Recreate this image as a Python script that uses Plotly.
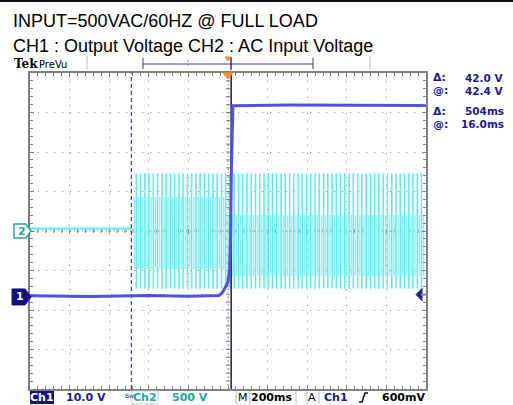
import plotly.graph_objects as go

W, H = 513, 405
L, R, T, B = 30, 426, 73, 389          # graticule edges in pixels
PW, PH = R - L, B - T

time_div_ms = 200
ch1_v_div = 10.0
ch2_v_div = 500.0
ch1_pos_div = -1.67          # ch1 ground marker position (divisions from centre)
ch2_pos_div = 0.0

ch1_t_ms = [-1000, -700, -400, -200, -45, -30, -15, 0, 8, 13, 17, 21, 25, 300, 1000]
ch1_v = [0.3, 0.1, 0.4, 0.2, 0.4, 1.0, 2.3, 3.8, 7.0, 15.0, 32.0, 46.0, 48.4, 48.6, 48.5]

ch2_pre_t_ms = [-1000, -484]
ch2_pre_v = [30, 30]

# apparent (aliased) full-swing bars of the 60 Hz input after it is applied
ch2_bar_t_ms = [-463, -442, -420, -399, -377, -356, -334, -313, -291, -270, -248, -227,
                -205, -184, -162, -141, -119, -98, -76, -55, -33, -12, 10, 31, 53, 74,
                96, 117, 139, 160, 182, 203, 225, 246, 268, 289, 311, 332, 354, 375, 397,
                418, 440, 461, 483, 504, 526, 547, 569, 590, 612, 633, 655, 676, 698, 719,
                741, 762, 784, 805, 827, 848, 870, 891, 913, 934, 956, 977]
ch2_bar_top_v = 730
ch2_bar_bot_v = -730
# partial swings between the full bars (before / after the output rises)
ch2_part_t_ms = [-473, -452, -431, -409, -388, -366, -345, -323, -302, -280, -259, -237,
                 -216, -194, -173, -151, -130, -108, -87, -65, -44, -22, 0, 21, 42, 64, 85,
                 107, 128, 150, 171, 193, 214, 236, 257, 279, 300, 322, 343, 365, 386, 408,
                 429, 451, 472, 494, 515, 537, 558, 580, 601, 623, 644, 666, 687, 709, 730,
                 752, 773, 795, 816, 838, 859, 881, 902, 924, 945, 967, 988]
ch2_part_top_v = [430] * 22 + [200] * 47
ch2_part_bot_v = [-480] * 22 + [-570] * 47

cursor_t_ms = [-488, 16]
trig_t_ms = 0
trig_level_v = 0.6

readouts = [("Δ:", "42.0 V"), ("@:", "42.4 V"), ("Δ:", "504ms"), ("@:", "16.0ms")]

# ---------------- helpers ----------------
def px(x):
    return (x - L) / PW

def py(y):
    return (B - y) / PH

def path(pts, close=True):
    return "M " + " L ".join(f"{px(a):.5f},{py(b):.5f}" for a, b in pts) + (" Z" if close else "")

ch1_range = [(-4 - ch1_pos_div) * ch1_v_div, (4 - ch1_pos_div) * ch1_v_div]
ch2_range = [(-4 - ch2_pos_div) * ch2_v_div, (4 - ch2_pos_div) * ch2_v_div]

CYAN = "#5eeef0"
CH1C = "#5050e6"
NAVY = "#1a1a9c"
TEAL = "#21a6a6"

fig = go.Figure()

# CH2 before the input is applied
fig.add_trace(go.Scatter(x=ch2_pre_t_ms, y=ch2_pre_v, mode="lines",
                         line=dict(color=CYAN, width=2.2), yaxis="y", hoverinfo="skip"))
# CH2 partial swings
xs, ys = [], []
for t, a, b in zip(ch2_part_t_ms, ch2_part_top_v, ch2_part_bot_v):
    xs += [t, t, None]
    ys += [a, b, None]
fig.add_trace(go.Scatter(x=xs, y=ys, mode="lines", line=dict(color="#92f0f2", width=1.4),
                         yaxis="y", hoverinfo="skip"))
# CH2 full swings
xs, ys = [], []
for t in ch2_bar_t_ms:
    xs += [t, t, None]
    ys += [ch2_bar_top_v, ch2_bar_bot_v, None]
fig.add_trace(go.Scatter(x=xs, y=ys, mode="lines", line=dict(color=CYAN, width=1.6),
                         yaxis="y", hoverinfo="skip"))

# cursors
fig.add_trace(go.Scatter(x=[cursor_t_ms[0]] * 2, y=ch2_range, mode="lines",
                         line=dict(color="#3a3ac8", width=1.2, dash="4px,3px"),
                         yaxis="y", hoverinfo="skip"))
fig.add_trace(go.Scatter(x=[cursor_t_ms[1]] * 2, y=ch2_range, mode="lines",
                         line=dict(color="#22228a", width=1.6), yaxis="y", hoverinfo="skip"))

# CH1
fig.add_trace(go.Scatter(x=ch1_t_ms, y=ch1_v, mode="lines",
                         line=dict(color=CH1C, width=3), yaxis="y2", hoverinfo="skip"))

shapes = []
# centre cross (dotted with small ticks)
shapes.append(dict(type="line", xref="paper", yref="paper", x0=0, x1=1, y0=0.5, y1=0.5,
                   line=dict(color="#8a8a8a", width=1, dash="1px,3px"), layer="below"))
shapes.append(dict(type="line", xref="paper", yref="paper", x0=0.5, x1=0.5, y0=0, y1=1,
                   line=dict(color="#8a8a8a", width=1, dash="1px,3px"), layer="below"))
cx, cy = (L + R) / 2, (T + B) / 2
for i in range(1, 50):
    x = L + i * PW / 50
    shapes.append(dict(type="line", xref="paper", yref="paper", x0=px(x), x1=px(x),
                       y0=py(cy - 2), y1=py(cy + 2), line=dict(color="#808080", width=1),
                       layer="below"))
for i in range(1, 40):
    y = T + i * PH / 40
    shapes.append(dict(type="line", xref="paper", yref="paper", x0=px(cx - 2), x1=px(cx + 2),
                       y0=py(y), y1=py(y), line=dict(color="#808080", width=1), layer="below"))

# left channel markers
g2 = B - (ch2_pos_div + 4) * PH / 8
g1 = B - (ch1_pos_div + 4) * PH / 8
shapes.append(dict(type="path", xref="paper", yref="paper",
                   path=path([(14, g2 - 7), (26, g2 - 7), (31, g2), (26, g2 + 7), (14, g2 + 7)]),
                   fillcolor="white", line=dict(color=TEAL, width=1.5)))
shapes.append(dict(type="path", xref="paper", yref="paper",
                   path=path([(12, g1 - 8), (25, g1 - 8), (31, g1), (25, g1 + 8), (12, g1 + 8)]),
                   fillcolor="#12127e", line=dict(color="#12127e", width=1)))
# trigger level marker (right)
tl = B - (trig_level_v / ch1_v_div + ch1_pos_div + 4) * PH / 8
shapes.append(dict(type="path", xref="paper", yref="paper",
                   path=path([(416, tl), (422, tl - 6), (422, tl + 6)]),
                   fillcolor="#1c1ca0", line=dict(color="#1c1ca0", width=1)))
shapes.append(dict(type="line", xref="paper", yref="paper", x0=px(421), x1=px(426),
                   y0=py(tl), y1=py(tl), line=dict(color="#7c7ce8", width=2)))
# trigger position marker (top)
tx = L + (trig_t_ms / time_div_ms + 5) * PW / 10
shapes.append(dict(type="path", xref="paper", yref="paper",
                   path=path([(tx - 5, T), (tx + 5, T), (tx, T + 6)]),
                   fillcolor="#ff8a1c", line=dict(color="#ff8a1c", width=1)))
# record view bar at the top
shapes.append(dict(type="line", xref="paper", yref="paper", x0=px(143), x1=px(313),
                   y0=py(64), y1=py(64), line=dict(color="#3b3ba6", width=1.2)))
for x in (143, 313):
    shapes.append(dict(type="line", xref="paper", yref="paper", x0=px(x), x1=px(x),
                       y0=py(58), y1=py(69), line=dict(color="#444", width=1)))
for x in (87, 370):
    shapes.append(dict(type="line", xref="paper", yref="paper", x0=px(x), x1=px(x),
                       y0=py(56), y1=py(70), line=dict(color="#bbbbbb", width=1)))
shapes.append(dict(type="line", xref="paper", yref="paper", x0=px(188), x1=px(188),
                   y0=py(60), y1=py(68), line=dict(color="#7a7ad8", width=1, dash="2px,2px")))
shapes.append(dict(type="line", xref="paper", yref="paper", x0=px(231), x1=px(231),
                   y0=py(57), y1=py(70), line=dict(color="#22228a", width=1.4)))
shapes.append(dict(type="path", xref="paper", yref="paper",
                   path=path([(225, 57), (231, 57), (228, 61)]),
                   fillcolor="#ff8a1c", line=dict(color="#ff8a1c", width=1)))
# top black rule
shapes.append(dict(type="line", xref="paper", yref="paper", x0=px(0), x1=px(513),
                   y0=py(1), y1=py(1), line=dict(color="#111", width=2)))
# status bar boxes
shapes.append(dict(type="rect", xref="paper", yref="paper", x0=px(30), x1=px(54),
                   y0=py(391), y1=py(404), fillcolor="#12127e", line=dict(width=0)))
shapes.append(dict(type="rect", xref="paper", yref="paper", x0=px(132), x1=px(158),
                   y0=py(391), y1=py(404), fillcolor="white", line=dict(color="#ccc", width=1)))
for x in (236, 250, 296, 307, 319):
    shapes.append(dict(type="line", xref="paper", yref="paper", x0=px(x), x1=px(x),
                       y0=py(391), y1=py(404), line=dict(color="#bbb", width=1)))
# rising-edge symbol
shapes.append(dict(type="path", xref="paper", yref="paper",
                   path=path([(359, 402), (362, 402), (365, 393), (368, 393)], close=False),
                   line=dict(color="#111", width=1.5)))

ann = []
def text(x, y, s, size=12, color="black", family="DejaVu Sans", xanchor="left", bold=False):
    if bold:
        s = f"<b>{s}</b>"
    ann.append(dict(x=px(x), y=py(y), xref="paper", yref="paper", text=s, showarrow=False,
                    xanchor=xanchor, yanchor="middle", font=dict(size=size, color=color, family=family)))

TF = "Liberation Sans, Arial"
text(11, 21, "INPUT=500VAC/60HZ @ FULL LOAD", size=18, family=TF)
text(11, 46, "CH1 : Output Voltage CH2 : AC Input Voltage", size=18, family=TF)
text(12, 64, "Tek", size=12, family="DejaVu Serif", bold=True)
text(37, 64, "PreVu", size=10, family="DejaVu Sans")
text(22, g2, "2", size=11, color=TEAL, bold=True, xanchor="center")
text(20, g1, "1", size=11, color="white", bold=True, xanchor="center")

ry = [78, 91, 111, 124]
for (lab, val), y in zip(readouts, ry):
    text(431, y, lab, size=11, color=NAVY, bold=True)
    text(506, y, val, size=10.5, color=NAVY, bold=True, xanchor="right")

SB = 397
text(42, SB, "Ch1", size=11, color="white", bold=True, xanchor="center")
text(108, SB, "10.0 V", size=11, color=NAVY, bold=True, xanchor="right")
text(123, SB - 2, "Bw", size=6, color="#1a1a9c", xanchor="left")
text(145, SB, "Ch2", size=11, color=TEAL, bold=True, xanchor="center")
text(210, SB, "500 V", size=11, color=TEAL, bold=True, xanchor="right")
text(243, SB, "M", size=11, color="black", xanchor="center")
text(294, SB, "200ms", size=11, color="black", bold=True, xanchor="right")
text(312, SB, "A", size=11, color="black", xanchor="center")
text(350, SB, "Ch1", size=11, color=NAVY, bold=True, xanchor="right")
text(427, SB, "600mV", size=11, color="black", bold=True, xanchor="right")

axis_common = dict(showline=True, linecolor="#808080", linewidth=2, mirror="ticks",
                   ticks="inside", ticklen=4, tickcolor="#808080", tickwidth=1,
                   showticklabels=False, zeroline=False, showgrid=True,
                   gridcolor="#8a8a8a", gridwidth=1, griddash="1px,7px")

fig.update_layout(
    width=W, height=H, margin=dict(l=L, r=W - R, t=T, b=H - B, pad=0),
    paper_bgcolor="white", plot_bgcolor="white", showlegend=False,
    xaxis=dict(range=[-5 * time_div_ms, 5 * time_div_ms], dtick=time_div_ms, tick0=0,
               minor=dict(dtick=time_div_ms / 5, ticks="inside", ticklen=3,
                          tickcolor="#808080", showgrid=False), **axis_common),
    yaxis=dict(range=ch2_range, dtick=ch2_v_div, tick0=0,
               minor=dict(dtick=ch2_v_div / 5, ticks="inside", ticklen=3,
                          tickcolor="#808080", showgrid=False), **axis_common),
    yaxis2=dict(range=ch1_range, overlaying="y", visible=False),
    shapes=shapes, annotations=ann,
)

fig.write_html("out.html", config={"displayModeBar": False},
               post_script="document.body.style.margin='0';")
